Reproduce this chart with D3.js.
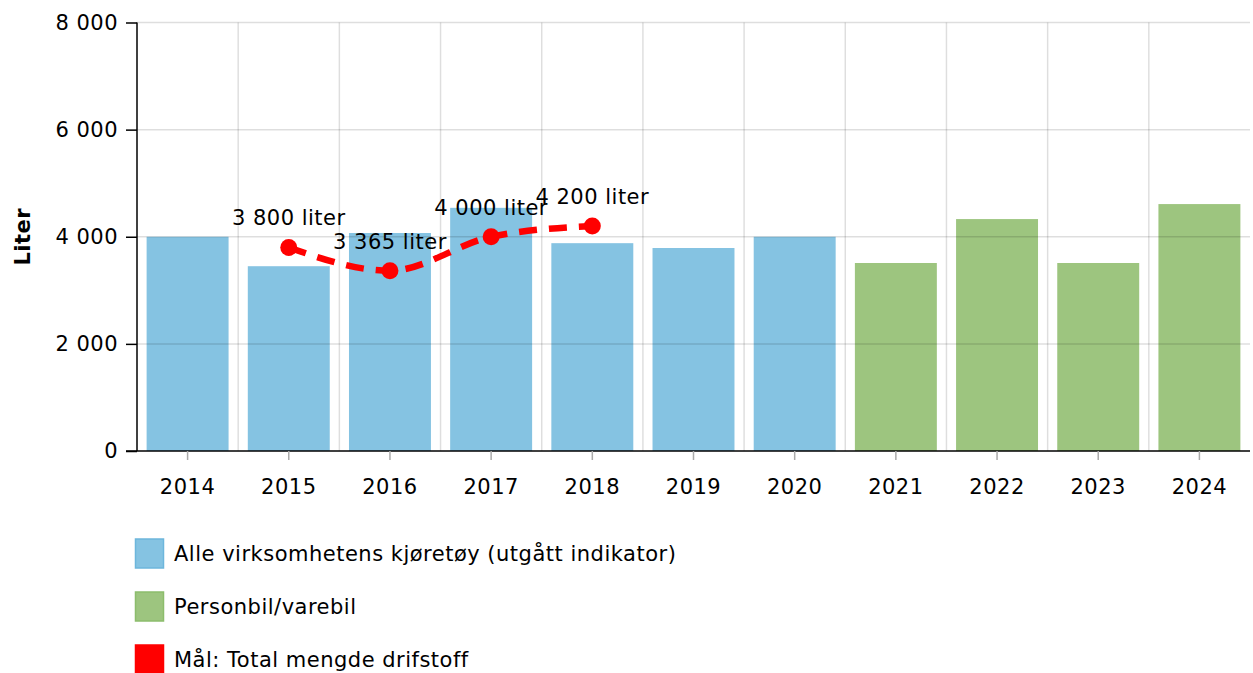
<!DOCTYPE html>
<html>
<head>
<meta charset="utf-8">
<script src="https://cdn.jsdelivr.net/npm/d3@7"></script>
<style>
  body { margin: 0; background: #fff; }
  svg { display: block; font-family: "DejaVu Sans", Verdana, sans-serif; }
  text { letter-spacing: 0.5px; }
</style>
</head>
<body>
<svg id="chart" width="1253" height="673"></svg>
<script>
'use strict';
// data
const years = ["2014", "2015", "2016", "2017", "2018", "2019", "2020", "2021", "2022", "2023", "2024"];
const allVehicles = [4000, 3450, 4070, 4540, 3880, 3790, 4000, null, null, null, null];
const carsVans = [null, null, null, null, null, null, null, 3510, 4330, 3510, 4610];
const goalYears = ["2015", "2016", "2017", "2018"];
const goalValues = [3800, 3365, 4000, 4200];
const yTicks = [0, 2000, 4000, 6000, 8000];
const seriesNames = ["Alle virksomhetens kjøretøy (utgått indikator)", "Personbil/varebil", "Mål: Total mengde drifstoff"];
const seriesColors = ["#85c3e2", "#9dc57f", "#ff0000"];
const seriesBorders = ["#6db6dc", "#8cbd6c", "#ff0000"];

const svg = d3.select("#chart");
const plotLeft = 137, plotRight = 1250, plotTop = 22.5, plotBottom = 451;

const nb = d3.formatLocale({ decimal: ",", thousands: " ", grouping: [3], currency: ["", " kr"] });
const fmt = nb.format(",d");

const x = d3.scaleBand().domain(years).range([plotLeft, plotRight]).paddingInner(0.19).paddingOuter(0.095);
const y = d3.scaleLinear().domain([0, 8000]).range([plotBottom, plotTop]);

// bars
function drawBars(values, color) {
  svg.append("g").selectAll("rect")
    .data(years.map((yr, i) => ({ year: yr, v: values[i] })).filter(d => d.v !== null))
    .enter().append("rect")
    .attr("x", d => x(d.year))
    .attr("y", d => y(d.v))
    .attr("width", x.bandwidth())
    .attr("height", d => y(0) - y(d.v))
    .attr("fill", color);
}
drawBars(allVehicles, seriesColors[0]);
drawBars(carsVans, seriesColors[1]);

// grid on top of bars
const grid = svg.append("g").attr("stroke", "rgba(0,0,0,0.13)").attr("stroke-width", 1.5);
yTicks.filter(t => t > 0).forEach(t => {
  grid.append("line").attr("x1", plotLeft).attr("x2", plotRight).attr("y1", y(t)).attr("y2", y(t));
});
years.slice(1).forEach(yr => {
  const xb = x(yr) - x.step() * x.paddingInner() / 2;
  grid.append("line").attr("x1", xb).attr("x2", xb).attr("y1", plotTop).attr("y2", plotBottom);
});

// y axis
const yAxis = svg.append("g")
  .attr("transform", "translate(" + plotLeft + ",0)")
  .call(d3.axisLeft(y).tickValues(yTicks).tickFormat(fmt).tickSize(11).tickPadding(8));
yAxis.select(".domain").attr("stroke", "#000").attr("stroke-width", 1.5).attr("d", "M0," + plotTop + "V" + plotBottom);
yAxis.selectAll(".tick line").attr("stroke", "#000").attr("stroke-width", 1.5);
yAxis.selectAll("text").attr("font-size", 21).attr("fill", "#000").attr("font-family", "DejaVu Sans");

// x axis
const xAxis = svg.append("g")
  .attr("transform", "translate(0," + plotBottom + ")")
  .call(d3.axisBottom(x).tickSize(9).tickPadding(19));
xAxis.select(".domain").attr("stroke", "#000").attr("stroke-width", 1.5).attr("d", "M" + (plotLeft - 11) + ",0H" + plotRight);
xAxis.selectAll(".tick line").attr("stroke", "#aaa").attr("stroke-width", 1.5);
xAxis.selectAll("text").attr("font-size", 21).attr("fill", "#000").attr("font-family", "DejaVu Sans");

// y axis title
svg.append("text")
  .attr("transform", "translate(30," + y(4000) + ") rotate(-90)")
  .attr("text-anchor", "middle")
  .attr("font-size", 21)
  .attr("font-weight", "bold")
  .text("Liter");

// goal line
const goal = goalYears.map((yr, i) => ({ year: yr, v: goalValues[i] }));
const cx = d => x(d.year) + x.bandwidth() / 2;
svg.append("path")
  .datum(goal)
  .attr("fill", "none")
  .attr("stroke", seriesColors[2])
  .attr("stroke-width", 6.5)
  .attr("stroke-dasharray", "18,12")
  .attr("d", d3.line().x(cx).y(d => y(d.v)).curve(d3.curveMonotoneX));
svg.append("g").selectAll("circle")
  .data(goal).enter().append("circle")
  .attr("cx", cx).attr("cy", d => y(d.v)).attr("r", 8.5)
  .attr("fill", seriesColors[2]);
svg.append("g").selectAll("text")
  .data(goal).enter().append("text")
  .attr("x", cx).attr("y", d => y(d.v) - 22)
  .attr("text-anchor", "middle")
  .attr("font-size", 21)
  .text(d => fmt(d.v) + " liter");

// legend
const legend = svg.append("g");
seriesNames.forEach((name, i) => {
  const ly = 539 + i * 53;
  legend.append("rect")
    .attr("x", 135.5).attr("y", ly).attr("width", 28).attr("height", 29)
    .attr("fill", seriesColors[i]).attr("stroke", seriesBorders[i]).attr("stroke-width", 1.5);
  legend.append("text")
    .attr("x", 174).attr("y", ly + 22)
    .attr("font-size", 21)
    .text(name);
});
</script>
</body>
</html>
